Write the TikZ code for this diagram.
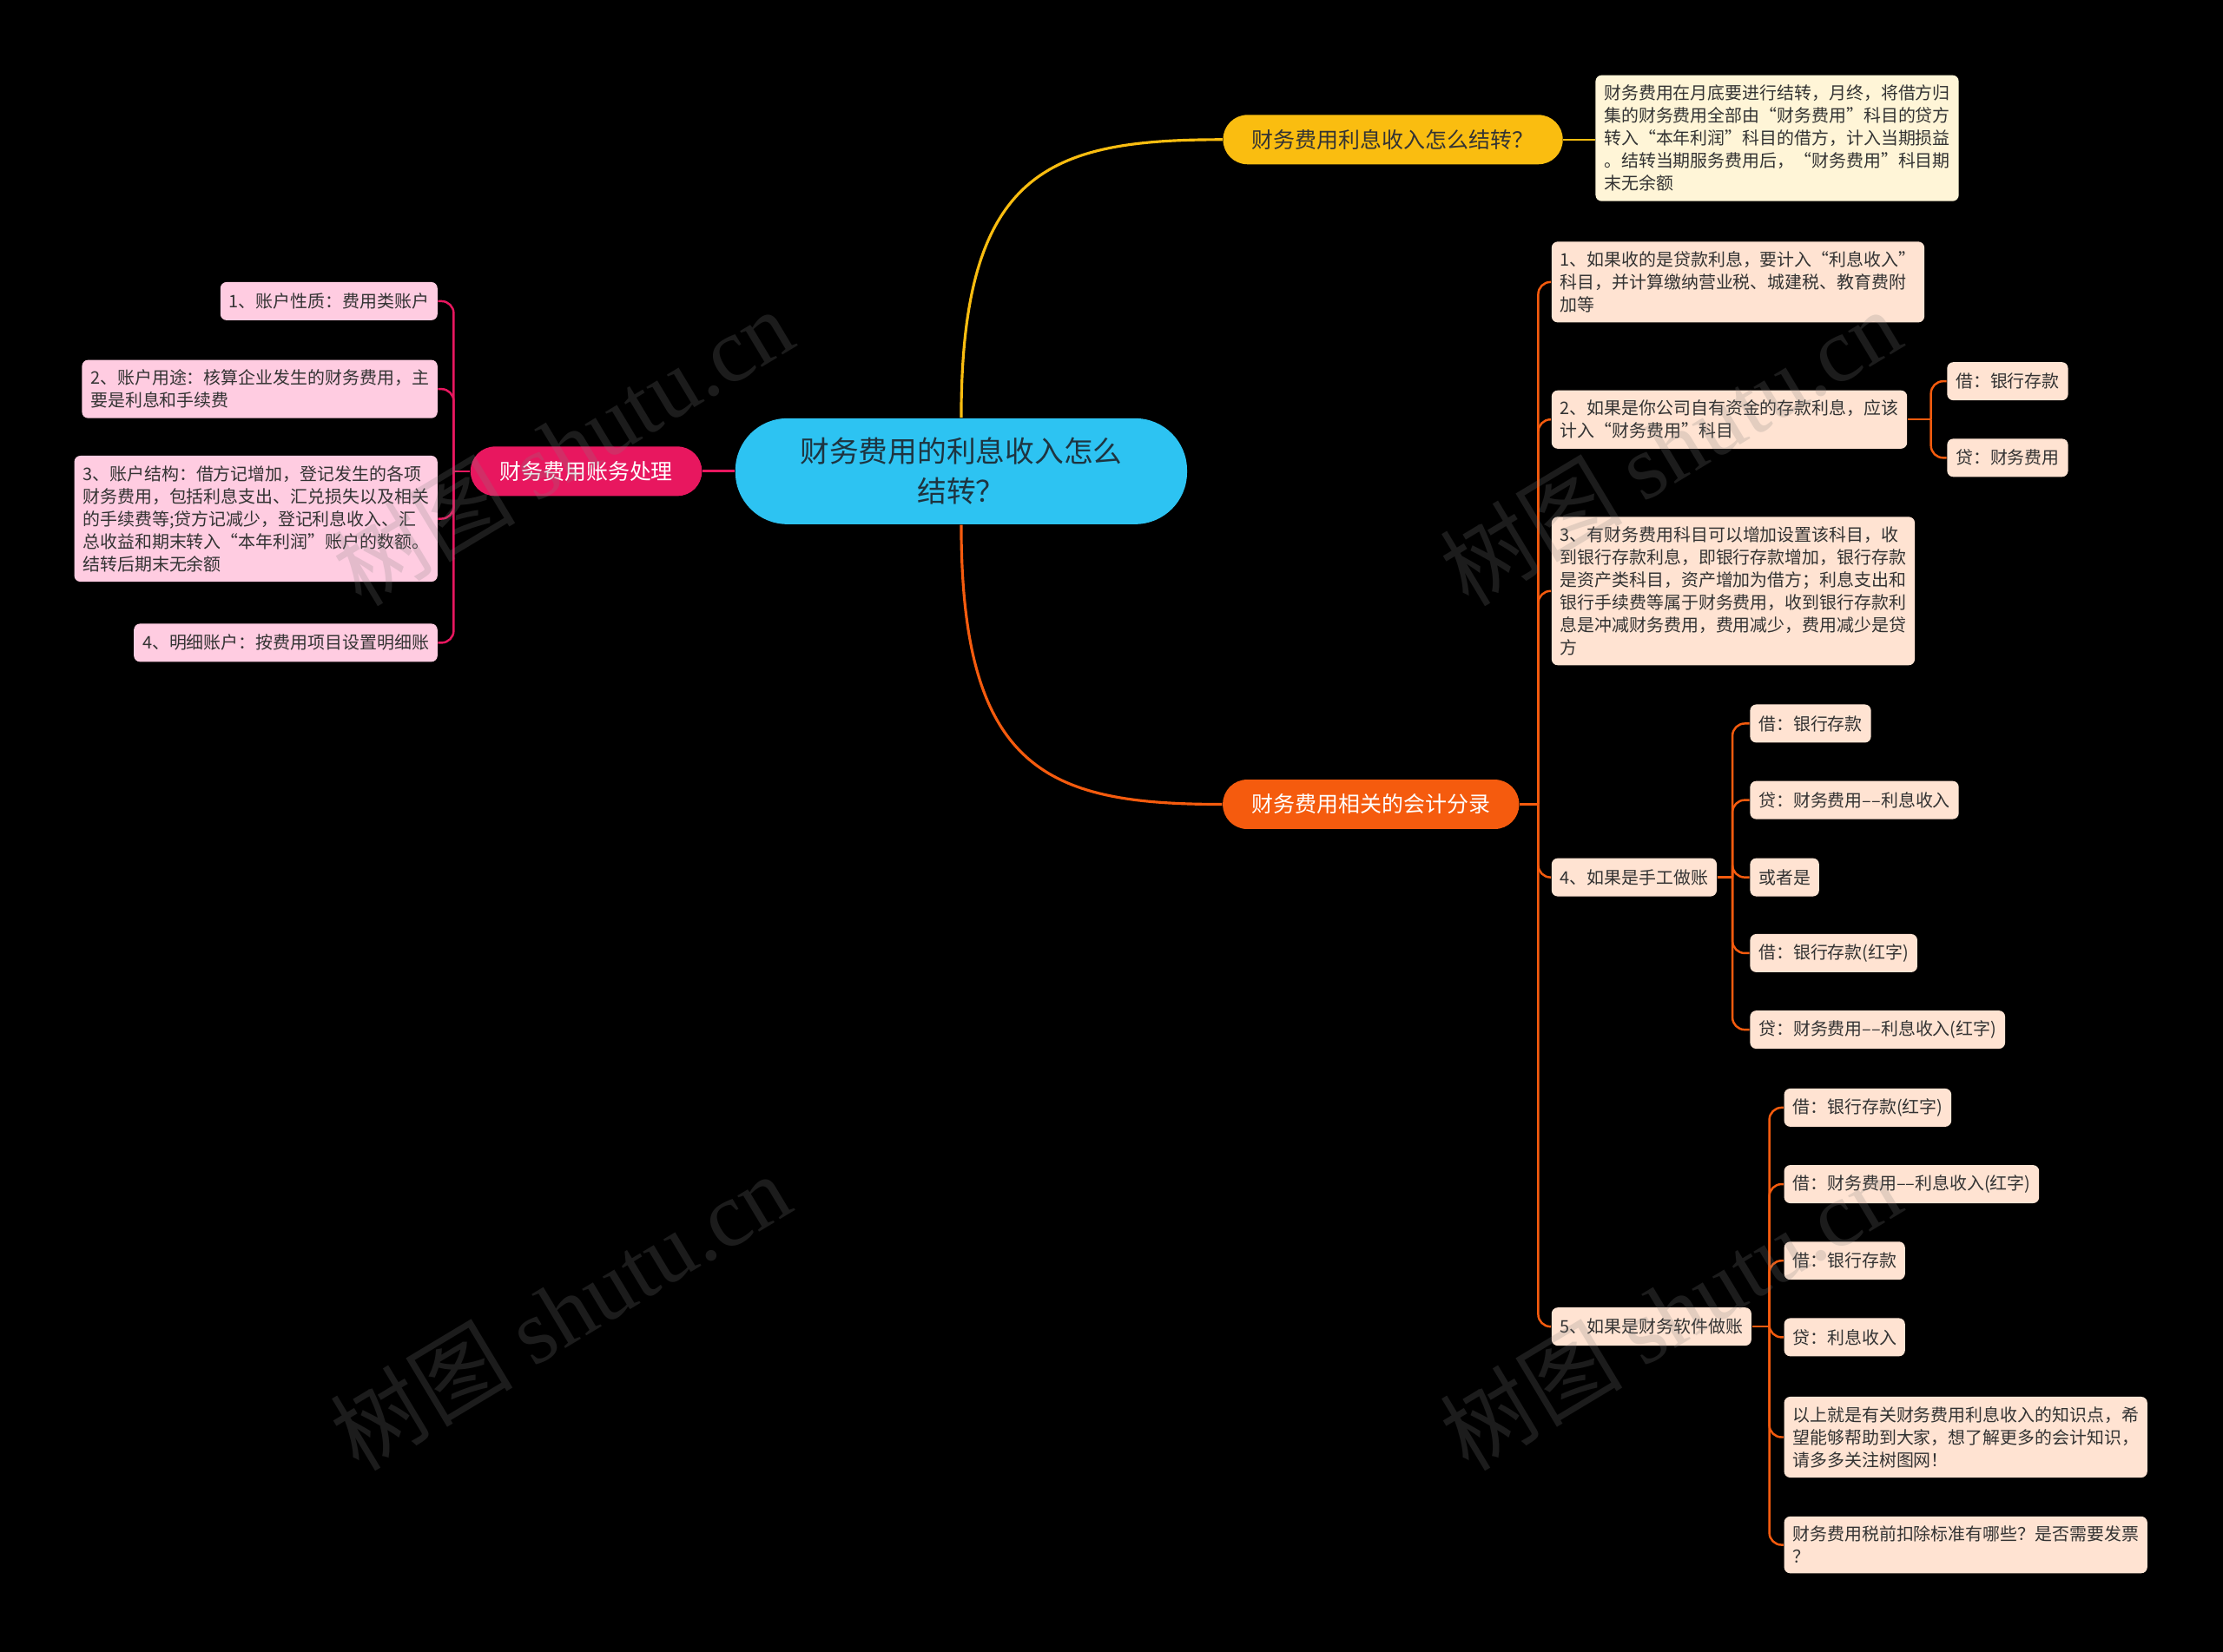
\documentclass[tikz,border=0pt]{standalone}
\usepackage{fontspec}
\setmainfont{Noto Sans CJK SC}
\newfontfamily\wmlatin{Liberation Serif}
\definecolor{cyanroot}{HTML}{2DC3F2}
\definecolor{roottext}{HTML}{1E3440}
\definecolor{goldtopic}{HTML}{FABD10}
\definecolor{orangetopic}{HTML}{F55B0E}
\definecolor{pinktopic}{HTML}{E8175F}
\definecolor{pinkleaf}{HTML}{FFCCE1}
\definecolor{peachleaf}{HTML}{FFE3D2}
\definecolor{creamnote}{HTML}{FFF5D7}
\definecolor{leaftext}{HTML}{333333}
\begin{document}
\begin{tikzpicture}[x=0.01633cm, y=-0.01633cm,
    leaf/.style={rounded corners=2pt, inner xsep=2.8pt, inner ysep=3.2pt, minimum height=12.5pt,
        align=left, text=leaftext, font=\fontsize{5.67}{7.4}\selectfont},
    pleaf/.style={leaf, fill=pinkleaf, anchor=east},
    oleaf/.style={leaf, fill=peachleaf, anchor=west},
    topic/.style={rounded corners=8pt, inner xsep=9.5pt, minimum height=16.2pt, font=\fontsize{7.1}{9}\selectfont},
    pline/.style={pinktopic, line width=0.7pt, rounded corners=4pt},
    oline/.style={orangetopic, line width=0.7pt, rounded corners=4pt},
    wm/.style={rotate=31, text=gray, opacity=0.22, font=\fontsize{30}{30}\selectfont}]
    \fill[black] (0,0) rectangle (1568,1165.6);
    \useasboundingbox (0,0) rectangle (1568,1165.6);

    \node[fill=cyanroot, text=roottext, rounded corners=17pt, minimum width=148pt, minimum height=34.7pt,
        align=center, font=\fontsize{9.6}{13}\selectfont] (root) at (678,332.5) {财务费用的利息收入怎么\\结转？};

    \node[topic, fill=goldtopic, text=leaftext] (carry) at (982.5,98.5) {财务费用利息收入怎么结转？};
    \node[topic, fill=orangetopic, text=white] (entry) at (967,567.5) {财务费用相关的会计分录};
    \node[topic, fill=pinktopic, text=white] (acct) at (413.5,332.5) {财务费用账务处理};

    \node[leaf, fill=creamnote, anchor=west] (carrynote) at (1125,97.5) {财务费用在月底要进行结转，月终，将借方归\\集的财务费用全部由“财务费用”科目的贷方\\转入“本年利润”科目的借方，计入当期损益\\。结转当期服务费用后，“财务费用”科目期\\末无余额};

    \node[pleaf] (l1) at (309,212.5) {1、账户性质：费用类账户};
    \node[pleaf] (l2) at (309,274.5) {2、账户用途：核算企业发生的财务费用，主\\要是利息和手续费};
    \node[pleaf] (l3) at (309,366) {3、账户结构：借方记增加，登记发生的各项\\财务费用，包括利息支出、汇兑损失以及相关\\的手续费等;贷方记减少，登记利息收入、汇\\总收益和期末转入“本年利润”账户的数额。\\结转后期末无余额};
    \node[pleaf] (l4) at (309,453.5) {4、明细账户：按费用项目设置明细账};

    \node[oleaf] (r1) at (1094,199) {1、如果收的是贷款利息，要计入“利息收入”\\科目，并计算缴纳营业税、城建税、教育费附\\加等};
    \node[oleaf] (r2) at (1094,296) {2、如果是你公司自有资金的存款利息，应该\\计入“财务费用”科目};
    \node[oleaf] (r3) at (1094,417) {3、有财务费用科目可以增加设置该科目，收\\到银行存款利息，即银行存款增加，银行存款\\是资产类科目，资产增加为借方；利息支出和\\银行手续费等属于财务费用，收到银行存款利\\息是冲减财务费用，费用减少，费用减少是贷\\方};
    \node[oleaf] (r4) at (1094,619) {4、如果是手工做账};
    \node[oleaf] (r5) at (1094,936) {5、如果是财务软件做账};

    \node[oleaf] (r2a) at (1373,269) {借：银行存款};
    \node[oleaf] (r2b) at (1373,323) {贷：财务费用};

    \node[oleaf] (r4a) at (1234,510.5) {借：银行存款};
    \node[oleaf] (r4b) at (1234,564.5) {贷：财务费用––利息收入};
    \node[oleaf] (r4c) at (1234,619) {或者是};
    \node[oleaf] (r4d) at (1234,672.5) {借：银行存款(红字)};
    \node[oleaf] (r4e) at (1234,726.5) {贷：财务费用––利息收入(红字)};

    \node[oleaf] (r5a) at (1258,781.5) {借：银行存款(红字)};
    \node[oleaf] (r5b) at (1258,835.5) {借：财务费用––利息收入(红字)};
    \node[oleaf] (r5c) at (1258,889.5) {借：银行存款};
    \node[oleaf] (r5d) at (1258,943.5) {贷：利息收入};
    \node[oleaf] (r5e) at (1258,1014) {以上就是有关财务费用利息收入的知识点，希\\望能够帮助到大家，想了解更多的会计知识，\\请多多关注树图网！};
    \node[oleaf] (r5f) at (1258,1090) {财务费用税前扣除标准有哪些？是否需要发票\\？};

    \draw[goldtopic, line width=0.9pt] (root.north) .. controls (678,120) and (740,98.5) .. (carry.west);
    \draw[orangetopic, line width=0.9pt] (root.south) .. controls (678,545) and (740,567.5) .. (entry.west);
    \draw[pinktopic, line width=0.9pt] (root.west) -- (acct.east);
    \draw[goldtopic, line width=0.7pt] (carry.east) -- (carry.east -| carrynote.west);

    \coordinate (pbus) at (320,332.5);
    \draw[pline] (acct.west) -- (pbus);
    \foreach \n in {l1,l2,l3,l4} \draw[pline] (pbus) |- (\n.east);

    \coordinate (obus) at (1085,567.5);
    \draw[oline] (entry.east) -- (obus);
    \foreach \n in {r1,r2,r3,r4,r5} \draw[oline] (obus) |- (\n.west);

    \coordinate (r2bus) at (1362,296);
    \draw[oline] (r2.east) -- (r2bus);
    \foreach \n in {r2a,r2b} \draw[oline] (r2bus) |- (\n.west);

    \coordinate (r4bus) at (1222,619);
    \draw[oline] (r4.east) -- (r4bus);
    \foreach \n in {r4a,r4b,r4c,r4d,r4e} \draw[oline] (r4bus) |- (\n.west);

    \coordinate (r5bus) at (1248,936);
    \draw[oline] (r5.east) -- (r5bus);
    \foreach \n in {r5a,r5b,r5c,r5d,r5e,r5f} \draw[oline] (r5bus) |- (\n.west);

    \foreach \wx/\wy [count=\k] in {397/315,1178/315,395/925,1178/925}
        \node[wm] (wm\k) at (\wx,\wy) {树图 {\wmlatin shutu.cn}};
\end{tikzpicture}
\end{document}
